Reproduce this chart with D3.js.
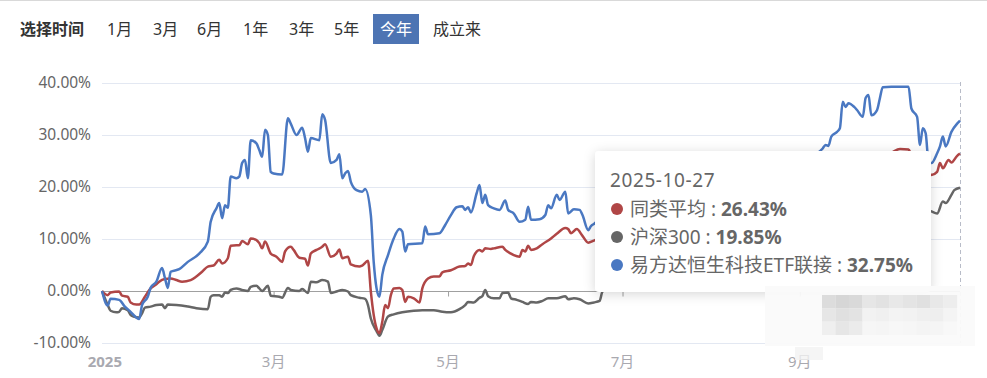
<!DOCTYPE html>
<html>
<head>
<meta charset="utf-8">
<script src="https://cdn.jsdelivr.net/npm/d3@7"></script>
<style>
  body { margin: 0; background: #fff; }
  svg { display: block; font-family: "Noto Sans", "Noto Sans CJK SC", sans-serif; }
</style>
</head>
<body>
<svg id="chart" width="987" height="378"></svg>
<script>
// period buttons
let periods = ["1月", "3月", "6月", "1年", "3年", "5年", "今年", "成立来"];
let periodX = [107, 153, 197, 243, 289, 334, 380, 433];
let activePeriod = "今年";

// axis ticks
let yTicks = [-10, 0, 10, 20, 30, 40];
let xTickDates = ["2025-01-01", "2025-03-01", "2025-05-01", "2025-07-01", "2025-09-01"];
let xTickLabels = ["2025", "3月", "5月", "7月", "9月"];

let seriesNames = ["同类平均", "沪深300", "易方达恒生科技ETF联接"];
let seriesColors = ["#b04646", "#666666", "#4a78c2"];
let tipDate = "2025-10-27";

// cumulative return, %
let avgSeries = [["2024-12-31",0],["01-02",-0.8],["01-03",-0.3],["01-06",-0.1],["01-07",-0.9],["01-09",-1.1],["01-10",-2.2],["01-12",-2.6],["01-13",-2.6],["01-15",-1.1],["01-17",0.5],["01-19",1.3],["01-20",1.8],["01-22",2.3],["01-24",2.4],["01-26",2.1],["01-28",1.8],["01-31",2.1],["02-02",2.8],["02-04",3.7],["02-06",4.7],["02-08",4.9],["02-10",6.0],["02-11",5.3],["02-13",6.3],["02-14",8.7],["02-16",8.8],["02-17",8.8],["02-18",9.6],["02-20",9.0],["02-21",10.1],["02-23",9.8],["02-24",9.2],["02-25",8.2],["02-26",9.5],["02-28",7.2],["03-02",6.6],["03-04",5.6],["03-05",7.6],["03-07",8.5],["03-08",7.9],["03-10",6.4],["03-12",6.2],["03-13",4.9],["03-14",7.2],["03-16",7.9],["03-18",8.5],["03-19",9.0],["03-21",6.6],["03-23",7.2],["03-24",8.0],["03-25",6.3],["03-27",6.6],["03-28",5.1],["03-31",4.7],["04-01",4.9],["04-03",5.8],["04-04",-0.1],["04-05",-4.6],["04-06",-7.2],["04-07",-8.1],["04-08",-5.9],["04-09",-2.7],["04-10",-3.3],["04-11",-0.8],["04-12",0.5],["04-14",0.6],["04-15",0.2],["04-16",-2.1],["04-17",-1.1],["04-19",-1.4],["04-21",-2.2],["04-22",0.5],["04-24",2.4],["04-26",2.8],["04-28",2.8],["04-29",3.6],["05-02",4.0],["05-05",4.7],["05-07",4.8],["05-08",5.3],["05-09",5.0],["05-10",6.7],["05-12",7.9],["05-13",7.6],["05-14",8.2],["05-16",8.1],["05-17",8.2],["05-20",8.5],["05-21",7.9],["05-23",7.2],["05-24",6.9],["05-26",6.6],["05-27",7.9],["05-28",7.6],["05-29",8.7],["05-30",7.9],["06-01",8.2],["06-03",9.0],["06-06",10.1],["06-08",11.0],["06-11",12.1],["06-12",11.9],["06-13",11.1],["06-15",11.9],["06-17",10.6],["06-19",9.3],["06-21",9.7],["06-25",10.5],["06-30",11.0],["07-04",11.5],["07-09",12.5],["07-14",13.0],["07-18",14.0],["07-23",15.5],["07-28",15.0],["08-01",14.0],["08-06",14.5],["08-11",15.5],["08-15",17.0],["08-20",18.5],["08-25",20.0],["08-29",19.5],["09-03",20.5],["09-08",22.0],["09-12",23.0],["09-17",24.0],["09-22",24.5],["09-25",25.5],["09-30",26.0],["10-03",26.6],["10-06",27.3],["10-09",27.2],["10-10",26.2],["10-13",24.5],["10-14",25.0],["10-16",23.0],["10-17",22.3],["10-19",22.9],["10-20",24.6],["10-21",23.6],["10-23",25.2],["10-24",24.7],["10-26",26.0],["10-27",26.43]];

let hs300Series = [["2024-12-31",0],["01-02",-2.7],["01-03",-3.8],["01-05",-4.1],["01-06",-4.0],["01-07",-3.3],["01-09",-3.7],["01-10",-4.6],["01-11",-4.9],["01-13",-5.1],["01-14",-4.3],["01-15",-3.2],["01-17",-3.0],["01-19",-2.7],["01-21",-2.6],["01-22",-3.3],["01-23",-2.6],["01-26",-2.7],["01-30",-3.0],["02-02",-3.3],["02-06",-3.5],["02-07",-1.1],["02-08",-0.8],["02-10",-0.8],["02-11",-1.1],["02-12",-0.3],["02-13",-0.4],["02-14",0.2],["02-16",0.5],["02-18",0.2],["02-20",0],["02-21",0.8],["02-23",1.0],["02-24",0.5],["02-25",0],["02-27",1.0],["02-28",-0.9],["03-03",-1.1],["03-04",-1.3],["03-06",0.6],["03-07",0.2],["03-10",0],["03-11",0.4],["03-13",-0.4],["03-14",1.8],["03-16",1.7],["03-18",2.1],["03-20",1.8],["03-21",-0.4],["03-23",-0.1],["03-25",0.2],["03-27",-0.1],["03-28",-0.8],["03-31",-1.3],["04-02",-1.5],["04-03",-2.7],["04-04",-5.3],["04-06",-7.7],["04-07",-8.6],["04-08",-7.5],["04-10",-4.9],["04-12",-4.5],["04-15",-4.1],["04-19",-3.8],["04-22",-3.7],["04-26",-3.7],["04-29",-4.0],["05-02",-4.1],["05-05",-3.5],["05-07",-2.7],["05-08",-2.1],["05-10",-2.2],["05-12",-1.3],["05-13",-1.0],["05-14",0.2],["05-15",-1.0],["05-17",-1.4],["05-19",-1.4],["05-20",-0.4],["05-22",-0.3],["05-23",-1.4],["05-25",-1.7],["05-27",-2.1],["05-29",-2.5],["05-30",-2.1],["06-01",-2.2],["06-03",-1.9],["06-05",-1.4],["06-08",-1.4],["06-11",-1.0],["06-12",-1.6],["06-14",-1.4],["06-16",-1.6],["06-19",-2.4],["06-21",-2.2],["06-23",-1.9],["06-24",-0.1],["06-27",0.5],["07-01",0.8],["07-04",1.0],["07-09",2.0],["07-14",2.5],["07-18",3.0],["07-23",4.5],["07-28",4.8],["08-01",4.0],["08-06",5.0],["08-11",6.0],["08-15",7.5],["08-20",9.0],["08-25",11.5],["08-29",11.0],["09-03",10.5],["09-08",11.0],["09-12",12.0],["09-17",12.5],["09-22",12.0],["09-25",13.5],["09-30",14.5],["10-09",16.0],["10-13",15.0],["10-15",15.8],["10-17",15.3],["10-19",14.9],["10-21",17.2],["10-22",16.9],["10-24",18.5],["10-25",19.4],["10-27",19.85]];

let etfSeries = [["2024-12-31",0],["01-02",-2.8],["01-03",-1.5],["01-06",-1.7],["01-08",-3.0],["01-10",-4.0],["01-12",-5.1],["01-13",-5.4],["01-14",-2.7],["01-16",-1.1],["01-17",0.6],["01-19",1.8],["01-21",4.4],["01-22",2.5],["01-23",0.6],["01-24",3.7],["01-27",4.2],["01-30",5.6],["02-03",7.2],["02-06",9.5],["02-07",13.3],["02-09",15.9],["02-10",16.9],["02-11",14.0],["02-12",16.5],["02-13",16.0],["02-14",22.0],["02-16",21.7],["02-17",22.0],["02-18",24.6],["02-19",25.2],["02-20",21.7],["02-21",29.0],["02-23",28.4],["02-24",27.1],["02-25",25.8],["02-26",31.0],["02-27",30.0],["02-28",22.9],["03-01",22.6],["03-04",22.4],["03-06",33.2],["03-07",32.2],["03-09",30.0],["03-11",31.4],["03-12",29.4],["03-13",26.8],["03-14",29.4],["03-17",29.0],["03-18",34.0],["03-19",32.9],["03-21",24.6],["03-23",25.2],["03-24",26.3],["03-25",21.7],["03-26",22.6],["03-27",23.1],["03-28",21.0],["03-30",19.4],["04-01",19.1],["04-02",19.6],["04-04",14.6],["04-05",5.6],["04-06",0.5],["04-07",-1.1],["04-08",3.1],["04-10",6.9],["04-12",10.1],["04-14",11.9],["04-15",11.4],["04-16",7.6],["04-17",9.0],["04-22",9.2],["04-23",12.4],["04-24",10.9],["04-28",11.1],["04-30",12.7],["05-02",14.6],["05-04",16.1],["05-06",16.3],["05-07",15.6],["05-08",16.1],["05-09",15.1],["05-11",18.8],["05-12",20.4],["05-13",16.9],["05-14",18.5],["05-15",16.5],["05-17",15.9],["05-19",15.6],["05-21",17.4],["05-22",15.6],["05-24",14.9],["05-26",13.3],["05-28",13.7],["05-29",16.2],["05-30",13.7],["06-02",13.8],["06-04",14.6],["06-05",16.5],["06-06",15.9],["06-08",18.5],["06-09",17.5],["06-11",19.1],["06-12",14.9],["06-14",15.7],["06-16",15.6],["06-17",14.6],["06-19",11.7],["06-20",12.5],["06-21",12.9],["06-24",14.0],["06-27",13.5],["07-01",13.0],["07-04",14.2],["07-08",15.0],["07-11",16.5],["07-15",16.0],["07-18",17.5],["07-22",19.0],["07-25",18.5],["07-29",17.0],["08-01",15.5],["08-05",16.0],["08-08",16.5],["08-12",17.5],["08-15",18.0],["08-19",19.5],["08-22",20.5],["08-26",22.0],["08-29",21.5],["09-02",23.0],["09-05",25.5],["09-09",27.4],["09-10",28.1],["09-11",27.9],["09-12",29.7],["09-14",30.6],["09-15",31.3],["09-16",36.4],["09-17",35.4],["09-18",36.1],["09-20",35.4],["09-21",34.8],["09-23",33.5],["09-24",37.1],["09-25",37.7],["09-26",33.8],["09-28",34.8],["09-29",37.1],["09-30",39.2],["10-03",39.3],["10-09",39.3],["10-10",35.1],["10-12",33.5],["10-13",28.1],["10-14",31.3],["10-15",30.3],["10-16",24.9],["10-17",24.6],["10-19",26.5],["10-20",27.8],["10-21",29.7],["10-22",27.8],["10-24",30.6],["10-26",32.2],["10-27",32.75]];

let parseDate = d3.timeParse("%Y-%m-%d");
function toDate(s) {
  return parseDate(s.length === 5 ? "2025-" + s : s);
}

let svg = d3.select("#chart");

// top bar
svg.append("line").
attr("x1", 0).attr("x2", 987).attr("y1", 0.5).attr("y2", 0.5).
attr("stroke", "#d9d9d9");

svg.append("text").
attr("x", 20).attr("y", 35).
attr("font-size", 16).attr("font-weight", "bold").attr("fill", "#333").
text("选择时间");

let btn = svg.selectAll(".period").
data(periods).
enter().
append("g").
attr("class", "period");

btn.filter(d => d === activePeriod).
append("rect").
attr("x", d => periodX[periods.indexOf(d)] - 7).
attr("y", 14).attr("width", 46).attr("height", 30).
attr("fill", "#4d74b3");

btn.append("text").
attr("x", (d, i) => periodX[i]).
attr("y", 35).
attr("font-size", 16).
attr("fill", d => d === activePeriod ? "#fff" : "#333").
text(d => d);

// scales
let x = d3.scaleTime().
domain([parseDate("2024-12-31"), parseDate(tipDate)]).
range([102, 960]);

let y = d3.scaleLinear().
domain([-10, 40]).
range([343, 83]);

// grid
svg.append("g").
selectAll("line").
data(yTicks.filter(d => d !== 0)).
enter().
append("line").
attr("x1", 102).attr("x2", 960).
attr("y1", d => y(d) + 0.5).attr("y2", d => y(d) + 0.5).
attr("stroke", "#e3e8f2");

// y axis labels
let yAxis = svg.append("g").
attr("transform", "translate(102,0)").
call(d3.axisLeft(y).tickValues(yTicks).tickSize(0).tickPadding(11).tickFormat(d => d.toFixed(2) + "%"));
yAxis.select(".domain").remove();
yAxis.selectAll("text").
attr("font-size", 15.5).attr("font-family", "Noto Sans, sans-serif").attr("fill", "#666");

// zero axis with ticks
let tickDates = xTickDates.map(parseDate);
let zeroAxis = svg.append("g").
attr("transform", "translate(0," + (y(0) + 0.5) + ")").
call(d3.axisBottom(x).tickValues(tickDates.slice(1)).tickSize(5).tickFormat(""));
zeroAxis.select(".domain").attr("stroke", "#a0a0a0").attr("d", "M102,0H960");
zeroAxis.selectAll(".tick line").attr("stroke", "#a0a0a0");

// month labels
svg.append("g").
selectAll("text").
data(tickDates).
enter().
append("text").
attr("x", d => x(d)).
attr("y", 367).
attr("text-anchor", "middle").
attr("font-size", 15).
attr("font-weight", (d, i) => i === 0 ? "bold" : "normal").
attr("fill", "#a9a9b0").
text((d, i) => xTickLabels[i]);

// dashed pointer
svg.append("line").
attr("x1", x(parseDate(tipDate)) + 0.5).attr("x2", x(parseDate(tipDate)) + 0.5).
attr("y1", 82).attr("y2", 343).
attr("stroke", "#b8bcc8").attr("stroke-dasharray", "4,3");

// lines
let allSeries = [avgSeries, hs300Series, etfSeries];
let line = d3.line().
x(d => x(toDate(d[0]))).
y(d => y(d[1])).
curve(d3.curveMonotoneX);

[1, 0, 2].forEach(i => {
  svg.append("path").
  datum(allSeries[i]).
  attr("d", line).
  attr("fill", "none").
  attr("stroke", seriesColors[i]).
  attr("stroke-width", 2.5).
  attr("stroke-linejoin", "round");
});

// tooltip
let defs = svg.append("defs");
defs.append("filter").
attr("id", "shadow").
attr("x", "-10%").attr("y", "-15%").attr("width", "120%").attr("height", "140%").
append("feDropShadow").
attr("dx", 0).attr("dy", 2).attr("stdDeviation", 6).
attr("flood-color", "#000").attr("flood-opacity", 0.16);

let tip = svg.append("g").attr("transform", "translate(595,151)");
tip.append("rect").
attr("width", 336).attr("height", 141).attr("rx", 4).
attr("fill", "#fff").attr("filter", "url(#shadow)");

tip.append("text").
attr("x", 15).attr("y", 36).
attr("font-size", 19).attr("fill", "#666").
attr("letter-spacing", 0.6).
text(tipDate);

let row = tip.selectAll(".row").
data(seriesNames).
enter().
append("g").
attr("class", "row").
attr("transform", (d, i) => "translate(0," + (58 + i * 28) + ")");

row.append("circle").
attr("cx", 22).attr("cy", 0).attr("r", 6).
attr("fill", (d, i) => seriesColors[i]);

let rowText = row.append("text").
attr("x", 35).attr("y", 6.5).
attr("font-size", 19).attr("fill", "#666");
rowText.append("tspan").text(d => d + " : ");
rowText.append("tspan").
attr("font-weight", "bold").
text((d, i) => allSeries[i][allSeries[i].length - 1][1].toFixed(2) + "%");

// blurred watermark patch
let mosaicShades = [
  [220, 214, 217, 230, 226, 232, 228, 224, 232, 237],
  [230, 224, 227, 242, 240, 243, 242, 239, 238, 244],
  [239, 230, 235, 246, 245, 247, 246, 244, 245, 248]
];
svg.append("rect").
attr("x", 765).attr("y", 286).attr("width", 210).attr("height", 60).
attr("fill", "#fafafa").attr("opacity", 0.95);
mosaicShades.forEach((rowShades, r) => {
  rowShades.forEach((s, c) => {
    svg.append("rect").
    attr("x", 822 + c * 13.5).attr("y", 295 + r * 13.3).
    attr("width", 13.6).attr("height", 13.4).
    attr("fill", d3.rgb(s, s, s));
  });
});
svg.append("rect").
attr("x", 795).attr("y", 347).attr("width", 28).attr("height", 13).
attr("fill", "#f2f2f2").attr("opacity", 0.8);
</script>
</body>
</html>
